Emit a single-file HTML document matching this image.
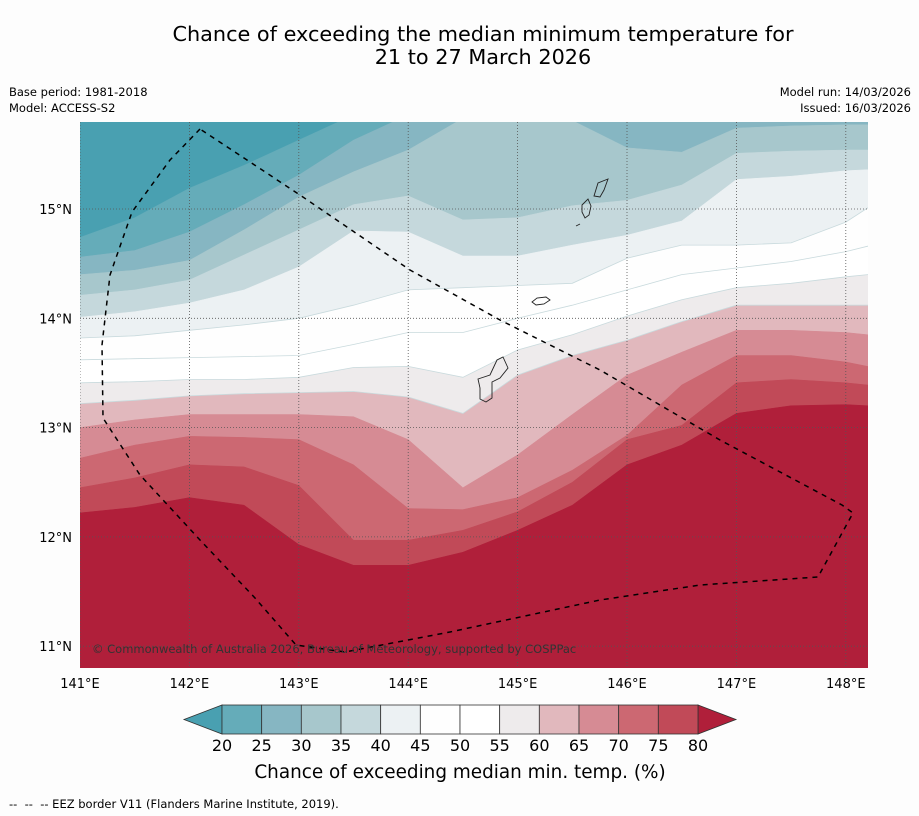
<!DOCTYPE html>
<html><head><meta charset="utf-8"><style>
body{margin:0;background:#fdfdfd;width:919px;height:816px;overflow:hidden;font-family:"DejaVu Sans","Liberation Sans",sans-serif}
.t{position:absolute;color:#000}
</style></head><body>
<div style="position:relative;width:919px;height:816px">
<div class="t" style="left:0;width:966px;top:23px;text-align:center;font-size:20.8px;line-height:23px">Chance of exceeding the median minimum temperature for<br>21 to 27 March 2026</div>
<div class="t" style="left:9px;top:84px;font-size:11.5px;line-height:16px">Base period: 1981-2018<br>Model: ACCESS-S2</div>
<div class="t" style="right:8px;top:84px;font-size:11.5px;line-height:16px;text-align:right">Model run: 14/03/2026<br>Issued: 16/03/2026</div>
<div class="t" style="left:9px;top:797px;font-size:11.5px;white-space:pre">--  --  -- EEZ border V11 (Flanders Marine Institute, 2019).</div>
<svg id="s" width="919" height="816" style="position:absolute;left:0;top:0"></svg>
</div>
<script>
const lons=[141,141.5,142,142.5,143,143.5,144,144.5,145,145.5,146,146.5,147,147.5,148,148.2];
const levels=[20,25,30,35,40,45,50,55,60,65,70,75,80];
const c20=[14.74,14.92,15.19,15.40,15.63,15.86,16.00,16.09,16.18,16.18,16.18,16.18,16.18,16.18,16.18,16.18];
const c25=[14.56,14.62,14.79,15.04,15.31,15.63,15.86,16.00,16.09,16.09,16.09,16.09,16.09,16.09,16.09,16.09];
const c30=[14.40,14.44,14.53,14.81,15.11,15.34,15.54,15.83,15.92,15.81,15.56,15.52,15.74,15.76,15.77,15.77];
const c35=[14.21,14.26,14.35,14.58,14.81,15.04,15.12,14.90,14.92,15.03,15.08,15.22,15.51,15.53,15.54,15.54];
const c40=[14.01,14.06,14.14,14.26,14.47,14.80,14.79,14.57,14.57,14.67,14.76,14.89,15.27,15.30,15.35,15.36];
const c45=[13.82,13.84,13.89,13.94,14.00,14.12,14.26,14.28,14.30,14.32,14.55,14.67,14.67,14.69,14.88,15.01];
const c50=[13.62,13.63,13.64,13.65,13.66,13.76,13.87,13.87,14.00,14.12,14.26,14.40,14.46,14.52,14.61,14.66];
const c55=[13.41,13.42,13.44,13.44,13.46,13.55,13.56,13.46,13.71,13.85,14.02,14.17,14.28,14.32,14.38,14.40];
const c60=[13.22,13.25,13.29,13.31,13.32,13.33,13.28,13.13,13.48,13.66,13.80,13.97,14.12,14.12,14.12,14.12];
const c65=[13.00,13.07,13.12,13.12,13.12,13.10,12.89,12.45,12.75,13.12,13.48,13.69,13.89,13.89,13.87,13.85];
const c70=[12.72,12.84,12.92,12.91,12.89,12.66,12.26,12.25,12.36,12.61,12.93,13.39,13.66,13.66,13.60,13.56];
const c75=[12.45,12.54,12.66,12.64,12.47,11.97,11.97,12.06,12.23,12.50,12.89,13.02,13.41,13.44,13.41,13.39];
const c80=[12.22,12.27,12.36,12.29,11.93,11.74,11.74,11.86,12.06,12.29,12.66,12.84,13.13,13.20,13.21,13.20];
const contours=[c20,c25,c30,c35,c40,c45,c50,c55,c60,c65,c70,c75,c80];
const bandColors=['#49a0b1','#65acb9','#86b6c2','#a7c7cc','#c5d8dc','#ecf1f3','#fefefe','#ffffff','#eeebec','#e1b8bd','#d68b94','#cc6872','#c14a58','#b01f3a'];
const lonTicks=[141,142,143,144,145,146,147,148];
const latTicks=[11,12,13,14,15];
const cbLabels=[20,25,30,35,40,45,50,55,60,65,70,75,80];

const X0=80,X1=868,Y0=122,Y1=668;
const FF='DejaVu Sans, Liberation Sans, sans-serif';
const px=l=>80+(l-141)*109.4;
const py=l=>209-(l-15)*109.3;
const NS='http://www.w3.org/2000/svg';
const svg=document.getElementById('s');
function mk(tag,attrs,parent){const e=document.createElementNS(NS,tag);for(const k in attrs)e.setAttribute(k,attrs[k]);(parent||svg).appendChild(e);return e;}
const defs=mk('defs',{});
const cp=mk('clipPath',{id:'cp'},defs);mk('rect',{x:X0,y:Y0,width:X1-X0,height:Y1-Y0},cp);
const g=mk('g',{'clip-path':'url(#cp)'});


const bg=mk('rect',{x:X0,y:Y0,width:X1-X0,height:Y1-Y0,fill:bandColors[0]},g);


contours.forEach((c,i)=>{
  let d='M'+(X0-5)+','+py(c[0]);
  lons.forEach((l,j)=>{d+=' L'+px(l).toFixed(1)+','+py(c[j]).toFixed(1);});
  d+=' L'+(X1+5)+','+py(c[c.length-1]).toFixed(1)+' L'+(X1+5)+','+(Y1+5)+' L'+(X0-5)+','+(Y1+5)+'Z';
  const p=mk('path',{d:d,fill:bandColors[i+1],stroke:(levels[i]>=45&&levels[i]<=60)?'#c9dadd':bandColors[i+1],'stroke-width':(levels[i]>=45&&levels[i]<=60)?0.8:0.5},g);
  
  
});
lonTicks.forEach(l=>{const e=mk('line',{x1:px(l),x2:px(l),y1:Y0,y2:Y1,stroke:'#555','stroke-width':0.8,'stroke-dasharray':'1,2'},g);


const t=mk('text',{x:px(l),y:688,'text-anchor':'middle','font-size':13,'font-family':FF});t.textContent=l+'°E';

});
latTicks.forEach(l=>{const e=mk('line',{x1:X0,x2:X1,y1:py(l),y2:py(l),stroke:'#555','stroke-width':0.8,'stroke-dasharray':'1,2'},g);


const t=mk('text',{x:72,y:py(l)+5,'text-anchor':'end','font-size':13,'font-family':FF});t.textContent=l+'°N';

});
const isl=[['guam','M478,379 L490,375 L497,360 L503,357 L508,368 L500,378 L492,382 L492,398 L486,402 L480,399 L480,388 Z'],
['rota','M532,302 L537,298 L546,297 L550,300 L544,304 L536,305 Z'],
['tinian','M582,205 L588,199 L591,206 L589,215 L585,218 L582,212 Z'],
['saipan','M594,196 L598,183 L608,179 L604,190 L600,197 Z'],['aguijan','M576,226 L580,224']];
isl.forEach(a=>{const e=mk('path',{d:a[1],fill:'none',stroke:'#222','stroke-width':0.9},g);

});
const eez=mk('path',{d:'M200,129 L170,160 L132,212 L110,275 L102,345 L103,418 L140,475 L200,540 L255,598 L296,645 L345,652 L450,632 L600,600 L700,585 L818,577 L853,513 L842,505 L720,440 L600,370 L500,320 L410,270 L300,195 Z',fill:'none',stroke:'#000','stroke-width':1.5,'stroke-dasharray':'5,5'},g);


const cr=mk('text',{x:92,y:653,'font-size':11.5,fill:'#333','font-family':FF},g);cr.textContent='© Commonwealth of Australia 2026, Bureau of Meteorology, supported by COSPPac';


const cb=mk('g',{});


const cbx=v=>222+(v-20)*(476/60);
const lt=mk('path',{d:'M222,705 L184,719.5 L222,734 Z',fill:bandColors[0],stroke:'#333','stroke-width':0.8},cb);


const rt=mk('path',{d:'M698,705 L736,719.5 L698,734 Z',fill:bandColors[13],stroke:'#333','stroke-width':0.8},cb);


for(let i=0;i<12;i++){const r=mk('rect',{x:cbx(cbLabels[i]),y:705,width:cbx(cbLabels[i+1])-cbx(cbLabels[i]),height:29,fill:bandColors[i+1],stroke:'#333','stroke-width':0.8},cb);

}
cbLabels.forEach(v=>{const t=mk('text',{x:cbx(v),y:751,'text-anchor':'middle','font-size':16,'font-family':FF},cb);t.textContent=v;

});
const ct=mk('text',{x:460,y:778,'text-anchor':'middle','font-size':18.4,'font-family':FF},cb);ct.textContent='Chance of exceeding median min. temp. (%)';


</script>
</body></html>
